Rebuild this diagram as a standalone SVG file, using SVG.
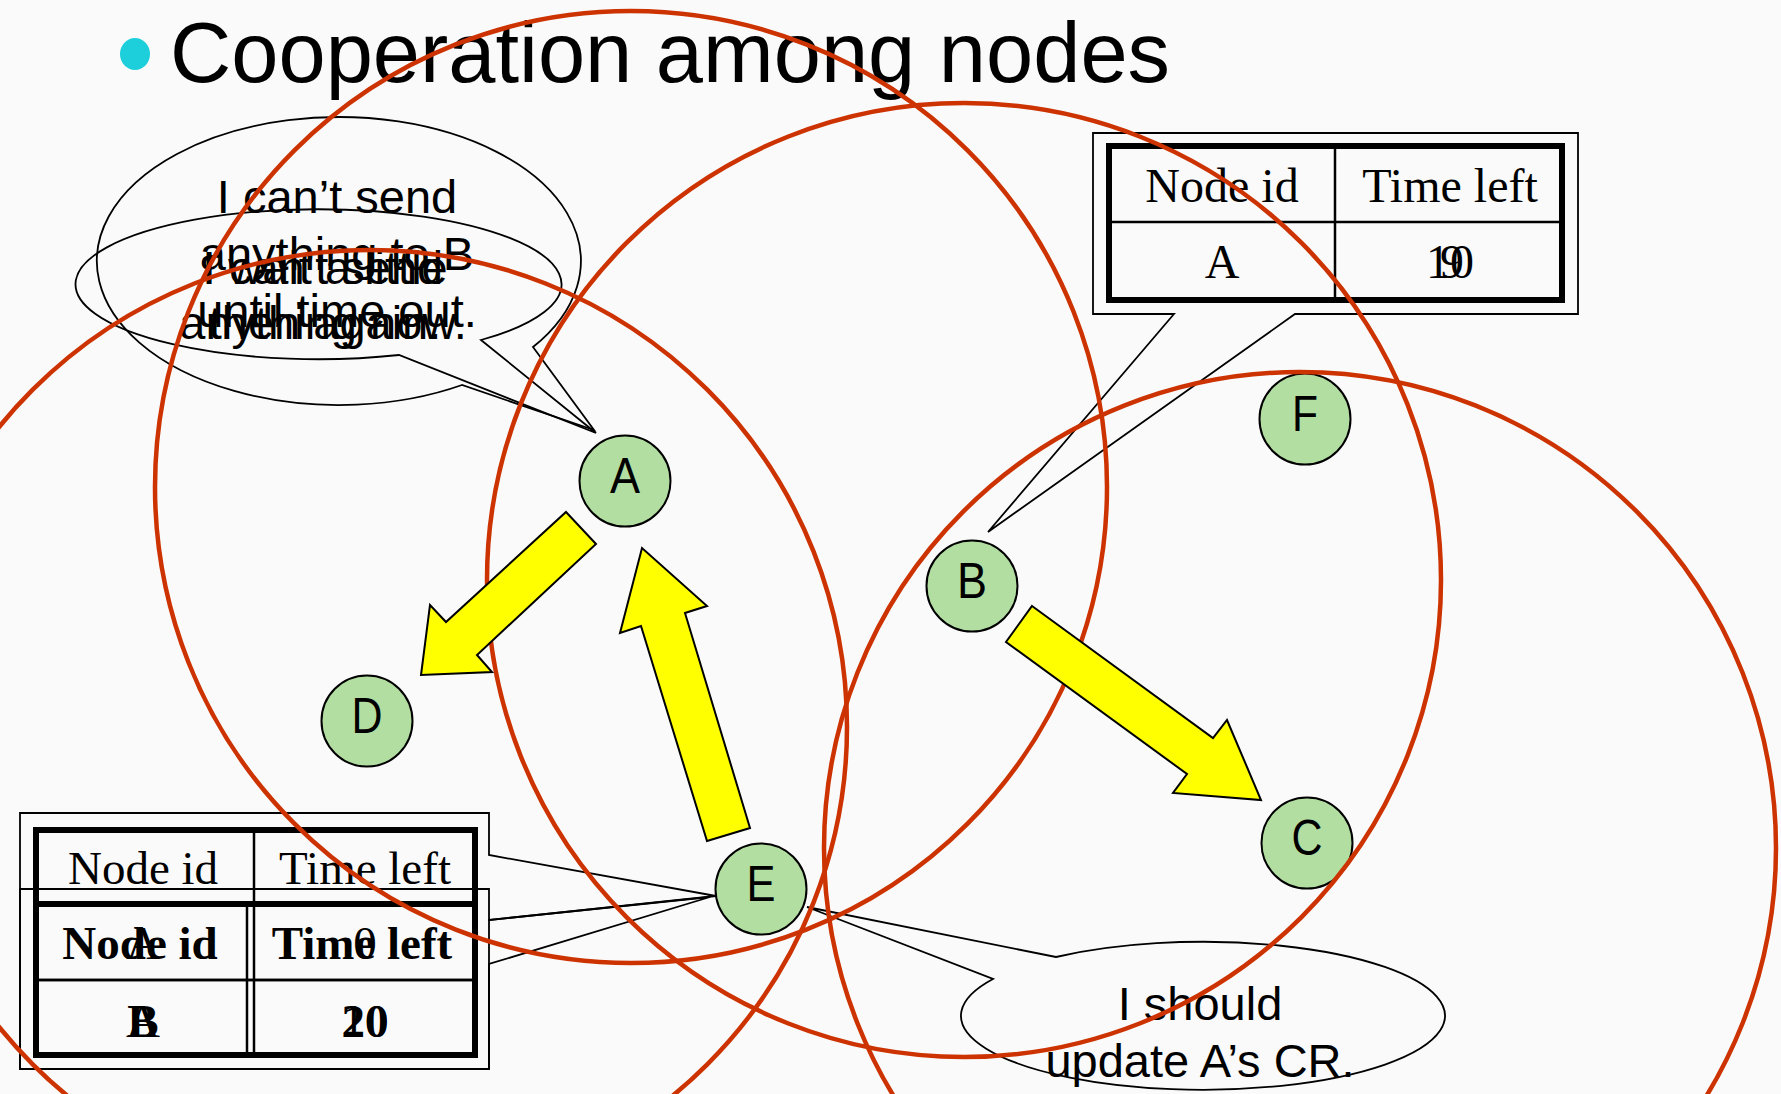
<svg xmlns="http://www.w3.org/2000/svg" width="1781" height="1094" viewBox="0 0 1781 1094">
  <style>
    .sans { font-family: "Liberation Sans", Arial, sans-serif; fill: #000; }
    .serif { font-family: "Liberation Serif", "Times New Roman", serif; fill: #000; }
    .mid { text-anchor: middle; }
    .node circle { fill: #b2dea2; stroke: #000; stroke-width: 2; }
    .node text { font-family: "Liberation Sans", Arial, sans-serif; font-size: 50px; text-anchor: middle; fill: #000; }
    .range { fill: none; stroke: #cc3300; stroke-width: 4.5; }
    .outline { fill: none; stroke: #000; stroke-width: 1.8; }
    .thick { fill: none; stroke: #000; stroke-width: 6; }
    .rule { stroke: #000; stroke-width: 2.5; }
    .flow { fill: #ffff00; stroke: #000; stroke-width: 2; stroke-linejoin: miter; }
  </style>

  <rect x="0" y="0" width="1781" height="1094" fill="#fafafa"/>

  <!-- title -->
  <g id="title">
    <ellipse cx="135" cy="54" rx="15" ry="16" fill="#1ccfdb"/>
    <text class="sans" x="170" y="82" font-size="86" textLength="1000" lengthAdjust="spacingAndGlyphs">Cooperation among nodes</text>
  </g>

  <!-- nodes -->
  <g id="node-A" class="node"><circle cx="625" cy="481" r="45.5"/><text x="625" y="493" textLength="30" lengthAdjust="spacingAndGlyphs">A</text></g>
  <g id="node-B" class="node"><circle cx="972" cy="586" r="45.5"/><text x="972" y="598" textLength="30" lengthAdjust="spacingAndGlyphs">B</text></g>
  <g id="node-C" class="node"><circle cx="1307" cy="843" r="45.5"/><text x="1307" y="855" textLength="31" lengthAdjust="spacingAndGlyphs">C</text></g>
  <g id="node-D" class="node"><circle cx="367" cy="721" r="45.5"/><text x="367" y="733" textLength="31" lengthAdjust="spacingAndGlyphs">D</text></g>
  <g id="node-E" class="node"><circle cx="761" cy="889" r="45.5"/><text x="761" y="901" textLength="29" lengthAdjust="spacingAndGlyphs">E</text></g>
  <g id="node-F" class="node"><circle cx="1305" cy="419" r="45.5"/><text x="1305" y="431" textLength="26" lengthAdjust="spacingAndGlyphs">F</text></g>

  <!-- speech bubbles of node A -->
  <g id="bubble-A1">
    <path class="outline" d="M 533 347 L 594 430 L 462 385 A 242 144 0 1 1 533 347 Z"/>
    <text class="sans mid" font-size="47" x="337" y="213">I can’t send</text>
    <text class="sans mid" font-size="47" x="337" y="270">anything to B</text>
    <text class="sans mid" font-size="47" x="337" y="327">until time out.</text>
  </g>
  <g id="bubble-A2">
    <path class="outline" d="M 481 340 L 596 433 L 399 355 A 243 75 0 1 1 481 340 Z"/>
    <text class="sans mid" font-size="47" x="323" y="284">I can’t send</text>
    <text class="sans mid" font-size="47" x="323" y="339">anything now.</text>
    <text class="sans mid" font-size="47" x="325" y="284">I wait a little</text>
    <text class="sans mid" font-size="47" x="325" y="339">then again.</text>
  </g>

  <!-- table callout of node B -->
  <g id="table-B">
    <path class="outline" d="M 1093 133 H 1578 V 314 H 1295 L 988 532 L 1174 314 H 1093 Z"/>
    <rect class="thick" x="1109" y="146" width="453" height="154"/>
    <line class="rule" x1="1335" y1="146" x2="1335" y2="300"/>
    <line class="rule" x1="1109" y1="222" x2="1562" y2="222"/>
    <text class="serif mid" font-size="48" x="1222" y="202">Node id</text>
    <text class="serif mid" font-size="48" x="1450" y="202">Time left</text>
    <text class="serif mid" font-size="48" x="1222" y="278">A</text>
    <text class="serif mid" font-size="48" x="1450" y="278">10</text>
    <text class="serif mid" font-size="48" x="1452" y="278">9</text>
  </g>

  <!-- table callouts of node E -->
  <g id="table-E1">
    <path class="outline" d="M 20 813 H 489 V 855 L 716 896 L 489 920 V 1069 H 20 Z"/>
    <rect class="thick" x="36" y="830" width="439" height="225"/>
    <line class="rule" x1="254" y1="830" x2="254" y2="1055"/>
    <line class="rule" x1="36" y1="980" x2="475" y2="980"/>
    <text class="serif mid" font-size="47" x="143" y="884">Node id</text>
    <text class="serif mid" font-size="47" x="365" y="884">Time left</text>
    <text class="serif mid" font-size="47" x="143" y="959">A</text>
    <text class="serif mid" font-size="47" x="365" y="959">0</text>
    <text class="serif mid" font-size="47" x="143" y="1037">A</text>
    <text class="serif mid" font-size="47" x="365" y="1037">10</text>
  </g>
  <g id="table-E2">
    <path class="outline" d="M 20 889 H 489 V 920 L 710 897 L 489 964 V 1069 H 20 Z"/>
    <rect class="thick" x="36" y="904" width="439" height="151"/>
    <line class="rule" x1="247" y1="904" x2="247" y2="1055"/>
    <line class="rule" x1="36" y1="980" x2="475" y2="980"/>
    <text class="serif mid" font-size="47" font-weight="bold" x="140" y="959">Node id</text>
    <text class="serif mid" font-size="47" font-weight="bold" x="362" y="959">Time left</text>
    <text class="serif mid" font-size="47" font-weight="bold" x="143" y="1037">B</text>
    <text class="serif mid" font-size="47" font-weight="bold" x="365" y="1037">20</text>
  </g>

  <!-- speech bubble of node E -->
  <g id="bubble-E">
    <path class="outline" d="M 1056 957 L 807 907 L 993 979 A 242 74 0 1 0 1056 957 Z"/>
    <text class="sans mid" font-size="47" x="1200" y="1020">I should</text>
    <text class="sans mid" font-size="47" x="1200" y="1077">update A’s CR.</text>
  </g>

  <!-- transmission ranges -->
  <g id="ranges">
    <circle class="range" cx="631" cy="487" r="476"/>
    <circle class="range" cx="964" cy="580" r="477"/>
    <circle class="range" cx="1300" cy="848" r="476"/>
    <circle class="range" cx="370" cy="727" r="477"/>
  </g>

  <!-- data flows -->
  <g id="connectors">
    <polygon class="flow" points="566,512 596,544 477,655 492,672 421,675 430,605 446,622"/>
    <polygon class="flow" points="707,841 750,828 685,613 707,606 642,548 620,633 641,626"/>
    <polygon class="flow" points="1032,606 1213,738 1227,720 1261,800 1173,793 1187,774 1006,642"/>
  </g>
</svg>
